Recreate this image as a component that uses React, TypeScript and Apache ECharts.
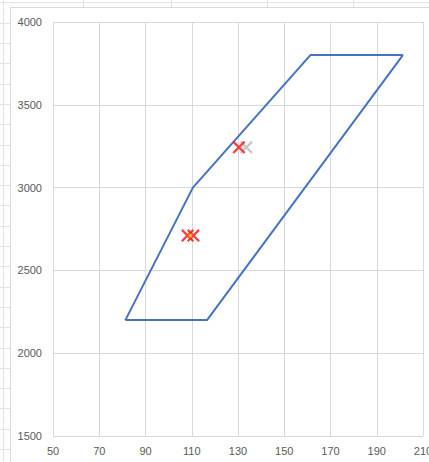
import React, { useEffect, useRef } from "react";
import * as echarts from "echarts";

// Outline of the envelope (x, y), closed back to the first vertex
const envelopeX = [81.3, 110.5, 161.3, 201.3, 116.6, 81.3];
const envelopeY = [2200, 3000, 3800, 3800, 2200, 2200];

// Measured points
const redX = [108.2, 110.7, 130.4];
const redY = [2710, 2710, 3243];
const greyX = [133.6];
const greyY = [3243];
const dotX = [109.4];
const dotY = [2710];

const xTicks = { min: 50, max: 210, step: 20 };
const yTicks = { min: 1500, max: 4000, step: 500 };

const CROSS = "path://M0,1.2 L1.2,0 L10,8.8 L8.8,10 Z M8.8,0 L10,1.2 L1.2,10 L0,8.8 Z";

const zip = (xs: number[], ys: number[]) => xs.map((x, i) => [x, ys[i]]);

export default function App() {
  const ref = useRef<HTMLDivElement>(null);

  useEffect(() => {
    if (!ref.current) return;
    const chart = echarts.init(ref.current, undefined, { renderer: "svg" });

    // spreadsheet cell lines around the embedded chart
    const sheet: any[] = [];
    const cellColor = "#e3e3e3";
    sheet.push({ type: "line", shape: { x1: 3.5, y1: 0, x2: 3.5, y2: 462 }, style: { stroke: cellColor, lineWidth: 1 } });
    sheet.push({ type: "line", shape: { x1: 0, y1: 2.5, x2: 429, y2: 2.5 }, style: { stroke: cellColor, lineWidth: 1 } });
    [83, 171, 267, 353].forEach((x) =>
      sheet.push({ type: "line", shape: { x1: x + 0.5, y1: 0, x2: x + 0.5, y2: 7 }, style: { stroke: cellColor, lineWidth: 1 } })
    );
    for (let y = 22.7; y < 462; y += 20.3) {
      const yy = Math.round(y) + 0.5;
      sheet.push({ type: "line", shape: { x1: 0, y1: yy, x2: 10, y2: yy }, style: { stroke: cellColor, lineWidth: 1 } });
    }
    sheet.push({
      type: "rect",
      shape: { x: 10.5, y: 7.5, width: 440, height: 470 },
      style: { fill: "#ffffff", stroke: "#d9d9d9", lineWidth: 1 },
      z: -1,
    });

    const labelStyle = { color: "#595959", fontSize: 11, fontFamily: "Liberation Sans, Arial, sans-serif" };

    chart.setOption({
      animation: false,
      backgroundColor: "#ffffff",
      graphic: sheet,
      grid: { left: 53, top: 22, right: 6, bottom: 26, containLabel: false, outerBoundsMode: "none" },
      xAxis: {
        type: "value",
        min: xTicks.min,
        max: xTicks.max,
        interval: xTicks.step,
        axisLine: { show: false },
        axisTick: { show: false },
        splitLine: { show: true, lineStyle: { color: "#d9d9d9", width: 1 } },
        axisLabel: { ...labelStyle, margin: 9, hideOverlap: false, formatter: (v: number) => String(v) },
      },
      yAxis: {
        type: "value",
        min: yTicks.min,
        max: yTicks.max,
        interval: yTicks.step,
        axisLine: { show: false },
        axisTick: { show: false },
        splitLine: { show: true, lineStyle: { color: "#d9d9d9", width: 1 } },
        axisLabel: { ...labelStyle, margin: 11, formatter: (v: number) => String(v) },
      },
      series: [
        {
          type: "line",
          data: zip(envelopeX, envelopeY),
          symbol: "none",
          lineStyle: { color: "#4472C4", width: 2 },
          z: 2,
        },
        {
          type: "scatter",
          data: zip(greyX, greyY),
          symbol: CROSS,
          symbolSize: 13,
          itemStyle: { color: "#b8b8b8" },
          z: 3,
        },
        {
          type: "scatter",
          data: zip(redX, redY),
          symbol: CROSS,
          symbolSize: 13,
          itemStyle: { color: "#ff1a1a", opacity: 0.85 },
          z: 4,
        },
        {
          type: "scatter",
          data: zip(dotX, dotY),
          symbol: "circle",
          symbolSize: 4,
          itemStyle: { color: "#FFC000" },
          z: 5,
        },
      ],
    });

    return () => chart.dispose();
  }, []);

  return (
    <div
      ref={ref}
      style={{ position: "fixed", left: 0, top: 0, width: 429, height: 462 }}
    />
  );
}
